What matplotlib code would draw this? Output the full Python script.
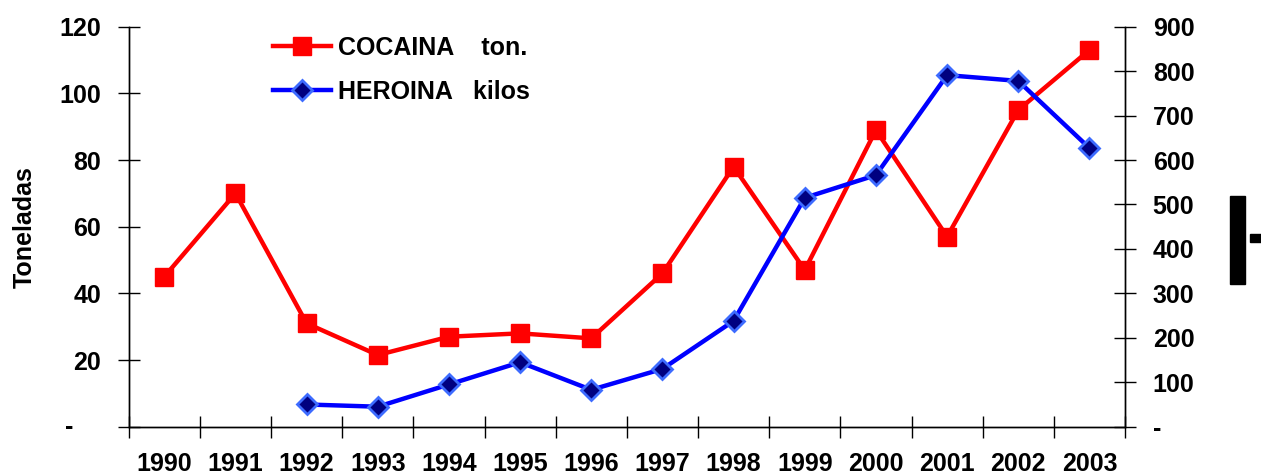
"""Cocaine (tonnes) and heroin (kilos) seizures, 1990-2003."""

import matplotlib

matplotlib.use("Agg")
import matplotlib.pyplot as plt
import numpy as np
from matplotlib.patches import Rectangle

YEARS = ["1990", "1991", "1992", "1993", "1994", "1995", "1996",
         "1997", "1998", "1999", "2000", "2001", "2002", "2003"]
COCAINA_TON = [45, 70, 31, 21.5, 27, 28, 26.5, 46, 78, 47, 89, 57, 95, 113]
HEROINA_KILOS = [np.nan, np.nan, 50, 45, 95, 145, 83, 130, 238, 515, 566,
                 791, 778, 627]
LEFT_TICKS = [0, 20, 40, 60, 80, 100, 120]
RIGHT_TICKS = [0, 100, 200, 300, 400, 500, 600, 700, 800, 900]

plt.rcParams["font.family"] = ["Liberation Sans", "DejaVu Sans"]
plt.rcParams["font.weight"] = "bold"
FS = 18

W, H = 1261, 474
fig = plt.figure(figsize=(W / 100, H / 100), dpi=100)
ax = fig.add_axes([128.7 / W, 1 - 426.7 / H, (1125 - 128.7) / W, 400 / H])
ax2 = ax.twinx()

x = np.arange(len(YEARS)) + 0.5

(l1,) = ax.plot(x, COCAINA_TON, color="#FF0000", linewidth=3.2, marker="s",
                markersize=13, markeredgecolor="#FF0000",
                label="COCAINA    ton.", zorder=3)
(l2,) = ax2.plot(x, HEROINA_KILOS, color="#0000FF", linewidth=3.2,
                 marker="D", markersize=10, markerfacecolor="#000080",
                 markeredgecolor="#3D6BFF", markeredgewidth=2,
                 label="HEROINA   kilos", zorder=3)

ax.set_xlim(0, len(YEARS))
ax.set_ylim(0, 120)
ax2.set_ylim(0, 900)

for a in (ax, ax2):
    a.spines["top"].set_visible(False)
    for s in a.spines.values():
        s.set_linewidth(1.0)

# x axis: labels at category centres, ticks on boundaries
ax.set_xticks(x)
ax.set_xticklabels(YEARS, fontsize=FS, fontweight="bold")
ax.tick_params(axis="x", which="major", length=0, pad=18)
ax.set_xticks(np.arange(len(YEARS) + 1), minor=True)
ax.tick_params(axis="x", which="minor", direction="inout", length=16,
               width=1.0)

ax.set_yticks(LEFT_TICKS)
ax.set_yticklabels([""] + [str(v) for v in LEFT_TICKS[1:]], fontsize=FS,
                   fontweight="bold")
ax.tick_params(axis="y", direction="inout", length=16, width=1.0, pad=12)
ax.annotate("-", xy=(0, 0), xycoords="axes fraction", xytext=(-60, 0),
            textcoords="offset pixels", ha="center", va="center",
            fontsize=FS, fontweight="bold")

ax2.set_yticks(RIGHT_TICKS)
ax2.set_yticklabels(["-"] + [str(v) for v in RIGHT_TICKS[1:]], fontsize=FS,
                    fontweight="bold")
ax2.tick_params(axis="y", direction="inout", length=16, width=1.0, pad=12)

ax.set_ylabel("Toneladas", fontsize=FS, fontweight="bold", labelpad=16)

ax2.legend(handles=[l1, l2], loc="upper left",
           bbox_to_anchor=(273 / W, 1 - 36 / H),
           bbox_transform=fig.transFigure, frameon=False,
           prop={"weight": "bold", "size": FS}, handlelength=2.3,
           handletextpad=0.3, labelspacing=0.8, borderpad=0,
           borderaxespad=0)

# clipped fragment at the right edge of the original
fig.add_artist(Rectangle((1230 / W, 1 - 284 / H), 15 / W, 88 / H,
                         transform=fig.transFigure, color="black"))
fig.add_artist(Rectangle((1250 / W, 1 - 242 / H), 11 / W, 8 / H,
                         transform=fig.transFigure, color="black"))

fig.savefig("out.png", dpi=100)
